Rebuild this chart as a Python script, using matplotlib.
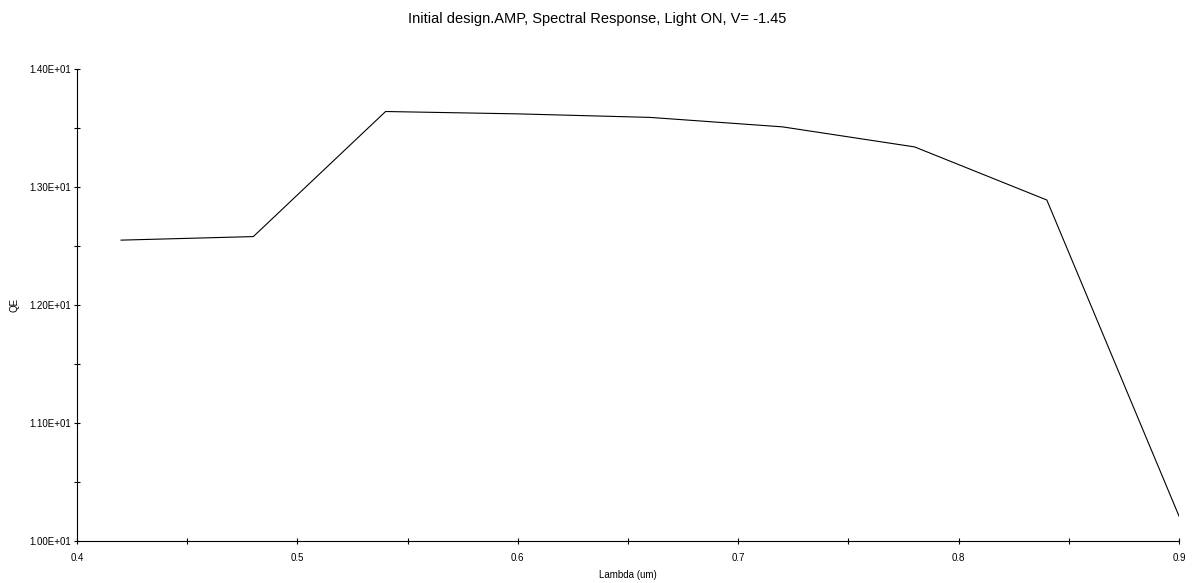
import matplotlib
matplotlib.use('Agg')
import matplotlib.pyplot as plt
from matplotlib.ticker import MultipleLocator, FuncFormatter

# Spectral response data
wavelength = [0.42, 0.48, 0.54, 0.60, 0.66, 0.72, 0.78, 0.84, 0.90]
qe = [12.55, 12.58, 13.64, 13.62, 13.59, 13.51, 13.34, 12.89, 10.21]

plt.rcParams['font.family'] = ['Liberation Sans', 'DejaVu Sans']

fig = plt.figure(figsize=(11.94, 5.83), dpi=100)
ax = fig.add_axes([0.0645, 0.072, 0.923, 0.8096])

ax.plot(wavelength, qe, color='black', linewidth=0.8)

ax.set_xlim(0.4, 0.9)
ax.set_ylim(10, 14)
ax.xaxis.set_major_locator(MultipleLocator(0.1))
ax.xaxis.set_minor_locator(MultipleLocator(0.05))
ax.yaxis.set_major_locator(MultipleLocator(1))
ax.yaxis.set_minor_locator(MultipleLocator(0.5))
ax.xaxis.set_major_formatter(FuncFormatter(lambda v, p: f"{v:.1f}"))
ax.yaxis.set_major_formatter(FuncFormatter(lambda v, p: f"{v:.2E}"))

ax.tick_params(which='both', direction='inout', length=5, width=0.8, labelsize=7, pad=2)
ax.tick_params(axis='x', which='major', pad=6)
ax.spines['top'].set_visible(False)
ax.spines['right'].set_visible(False)
ax.spines['left'].set_linewidth(0.8)
ax.spines['bottom'].set_linewidth(0.8)

ax.set_xlabel('Lambda (um)', fontsize=7, labelpad=5)
ax.set_ylabel('QE', fontsize=7, labelpad=7)
fig.suptitle('Initial design.AMP, Spectral Response, Light ON, V= -1.45', fontsize=10.5, y=0.98)

fig.savefig('out.png', dpi=100)
